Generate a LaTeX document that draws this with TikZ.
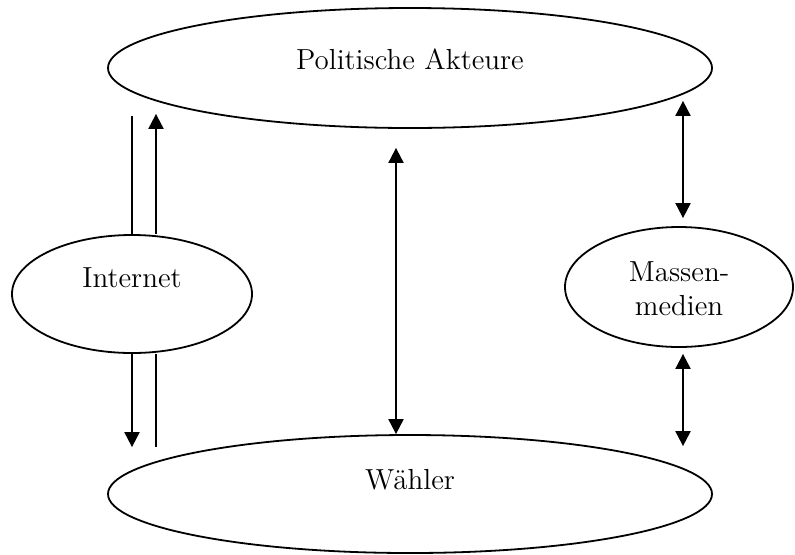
\documentclass[tikz,border=0pt]{standalone}
\usetikzlibrary{arrows.meta, shapes.geometric, calc}
\begin{document}
\begin{tikzpicture}[x=1pt, y=1pt, font=\fontsize{14.5}{17}\selectfont,
    oval/.style={draw, ellipse, line width=0.9pt, inner sep=0pt},
    strich/.style={line width=1pt},
    pfeil/.style={line width=1pt, -{Triangle[length=7.5pt, width=7.5pt]}},
    doppel/.style={line width=1pt, {Triangle[length=7.5pt, width=7.5pt]}-{Triangle[length=7.5pt, width=7.5pt]}}]
  \useasboundingbox (0,0) rectangle (397.5,277);
  % Ellipsen
  \node[oval, minimum width=302pt, minimum height=60pt] (pa) at (205,243) {};
  \node[oval, minimum width=302pt, minimum height=59pt] (wa) at (205,30) {};
  \node[oval, minimum width=120pt, minimum height=59pt] (net) at (66,130) {};
  \node[oval, minimum width=114pt, minimum height=60pt] (mm) at (339.5,133.5) {};
  % Beschriftungen
  \node (pat) at ($(pa.center)+(0,4.5)$) {Politische Akteure};
  \node (wat) at ($(wa.center)+(0,7)$) {Wähler};
  \node (nett) at ($(net.center)+(0,8)$) {Internet};
  \node[align=center] (mmt) at ($(mm.center)+(0,-1)$) {Massen-\\medien};
  % Verbindungen
  \draw[strich] (net.north) -- ($(net.north |- pa.south)+(0,6.5)$);
  \draw[pfeil] ($(net.north)+(12,0)$) -- ($(net.north |- pa.south)+(12,7.5)$);
  \draw[pfeil] (net.south) -- ($(net.south |- wa.north)+(0,-6.5)$);
  \draw[strich] ($(net.south)+(12,0)$) -- ($(net.south |- wa.north)+(12,-6.5)$);
  \draw[doppel] ($(pa.south)+(-7,-9.5)$) -- ($(wa.north)+(-7,0)$);
  \draw[doppel] ($(pa.south -| mm.north)+(2,14)$) -- ($(mm.north)+(2,4)$);
  \draw[doppel] ($(mm.south)+(2,-3)$) -- ($(wa.north -| mm.south)+(2,-6)$);
\end{tikzpicture}
\end{document}
